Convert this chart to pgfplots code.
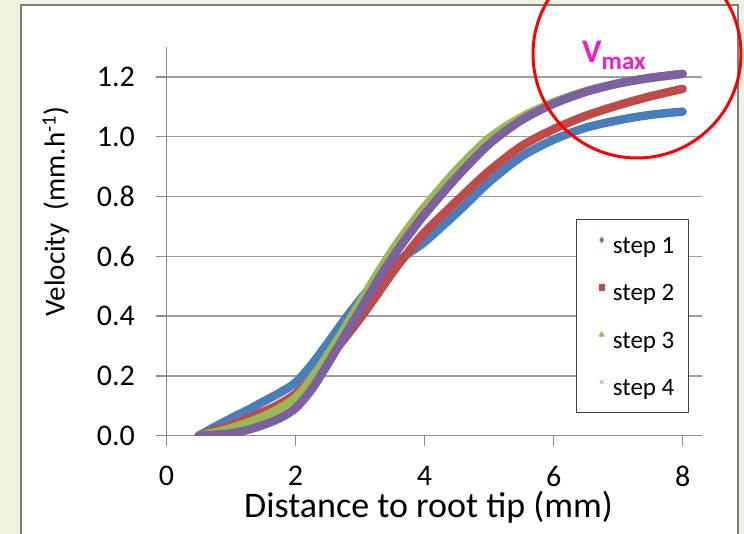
\documentclass[border=0pt]{standalone}
\usepackage{fontspec}
\setmainfont{Carlito}
\usepackage{pgfplots}
\pgfplotsset{compat=1.18}

\definecolor{sone}{HTML}{4A7EBB}
\definecolor{stwo}{HTML}{BE4B48}
\definecolor{sthree}{HTML}{98B954}
\definecolor{sfour}{HTML}{7D60A0}
\definecolor{bgcol}{HTML}{EEF2DF}
\definecolor{vmaxcol}{HTML}{F21BC9}

% legend sample: one small marker, fixed cell width
\pgfplotsset{
  legmark/.style n args={3}{
    legend image code/.code={
      \path (0pt,0pt) (14pt,0pt);
      \draw[#1, fill=#1, line width=0.6pt, mark size=#3] plot[mark=#2] coordinates {(7pt,5pt)};
    }
  },
  curve/.style={line width=8.5pt, line cap=round, smooth},
}

\begin{document}
\begin{tikzpicture}[x=1pt,y=1pt]
\useasboundingbox (0,0) rectangle (744,534);
\clip (0,0) rectangle (744,534);
\fill[bgcol] (0,0) rectangle (744,534);
\filldraw[fill=white, draw=black!50, line width=2.2pt] (21,-10) rectangle (738,529);

\begin{axis}[
  at={(166.5pt,98.3pt)}, anchor=origin,
  scale only axis, width=535.5pt, height=388.7pt,
  xmin=0, xmax=8.3, ymin=0, ymax=1.3,
  axis x line*=bottom, axis y line*=left,
  axis line style={black!45, line width=1.3pt, -},
  xtick={0,2,4,6,8},
  ytick={0,0.2,0.4,0.6,0.8,1.0,1.2},
  tick align=outside, major tick length=10.5pt,
  tick style={black!45, line width=1.3pt},
  ymajorgrids, grid style={black!38, line width=1.3pt},
  /pgf/number format/assume math mode=true,
  ticklabel style={font=\fontsize{30}{30}\selectfont},
  yticklabel style={/pgf/number format/fixed, /pgf/number format/fixed zerofill,
    /pgf/number format/precision=1, anchor=east, inner sep=0pt, xshift=-21pt},
  xticklabel style={anchor=north, inner sep=0pt, yshift=-20pt},
  xlabel={Distance to root tip (mm)},
  xlabel style={at={(axis description cs:0.4893,-0.2117)}, anchor=base,
    font=\fontsize{36}{36}\selectfont},
  ylabel={Velocity\ \ (mm.h\textsuperscript{-1})},
  ylabel style={at={(axis description cs:-0.2064,0.5768)}, anchor=center,
    font=\fontsize{29}{29}\selectfont},
  legend style={at={(0.9757,0.5575)}, anchor=north east,
    draw=black!75, line width=1.2pt, fill=white,
    font=\fontsize{25}{25}\selectfont,
    inner xsep=14pt, inner ysep=15.7pt, row sep=28.1pt,
    nodes={inner sep=0pt, text height=18pt, text depth=1.3pt}},
  legend cell align=left,
]
\addplot[sone, curve, legmark={sone}{diamond*}{2.6pt}] coordinates {
  (0.5,0.000) (0.75,0.030) (1.0,0.058) (1.25,0.085) (1.5,0.114) (1.75,0.143)
  (2.0,0.178) (2.25,0.238) (2.5,0.310) (2.75,0.385) (3.0,0.455) (3.25,0.518)
  (3.5,0.568) (3.75,0.610) (4.0,0.648) (4.5,0.745) (5.0,0.848) (5.5,0.933)
  (6.0,0.990) (6.5,1.030) (7.0,1.055) (7.5,1.073) (8.0,1.084)
};
\addlegendentry{step 1}
\addplot[stwo, curve, legmark={stwo}{square*}{2.6pt}] coordinates {
  (0.5,0.000) (0.75,0.017) (1.0,0.036) (1.25,0.057) (1.5,0.080) (1.75,0.106)
  (2.0,0.140) (2.25,0.192) (2.5,0.255) (2.75,0.322) (3.0,0.392) (3.25,0.467)
  (3.5,0.545) (3.75,0.615) (4.0,0.680) (4.5,0.785) (5.0,0.885) (5.5,0.968)
  (6.0,1.025) (6.5,1.070) (7.0,1.105) (7.5,1.135) (8.0,1.160)
};
\addlegendentry{step 2}
\addplot[sthree, curve, legmark={sthree}{triangle*}{3pt}] coordinates {
  (0.5,0.000) (0.75,0.011) (1.0,0.025) (1.25,0.043) (1.5,0.064) (1.75,0.091)
  (2.0,0.127) (2.25,0.190) (2.5,0.270) (2.75,0.355) (3.0,0.445) (3.25,0.535)
  (3.5,0.620) (3.75,0.695) (4.0,0.765) (4.5,0.890) (5.0,0.995) (5.5,1.065)
  (6.0,1.115) (6.5,1.152) (7.0,1.178) (7.5,1.196) (8.0,1.210)
};
\addlegendentry{step 3}
\addplot[sfour, curve, legmark={sfour!70}{x}{2.6pt}] coordinates {
  (0.5,0.000) (0.75,0.003) (1.0,0.008) (1.25,0.019) (1.5,0.036) (1.75,0.058)
  (2.0,0.092) (2.25,0.155) (2.5,0.240) (2.75,0.330) (3.0,0.420) (3.25,0.510)
  (3.5,0.595) (3.75,0.670) (4.0,0.740) (4.5,0.865) (5.0,0.975) (5.5,1.055)
  (6.0,1.110) (6.5,1.150) (7.0,1.178) (7.5,1.197) (8.0,1.210)
};
\addlegendentry{step 4}
\end{axis}

\draw[red, line width=3pt] (637,480) circle (104);
\node[anchor=base west, text=vmaxcol, inner sep=0pt, font=\fontsize{33}{33}\selectfont\bfseries]
  at (582,471.3) {V\raisebox{-6.5pt}{\fontsize{25}{25}\selectfont max}};
\end{tikzpicture}
\end{document}
